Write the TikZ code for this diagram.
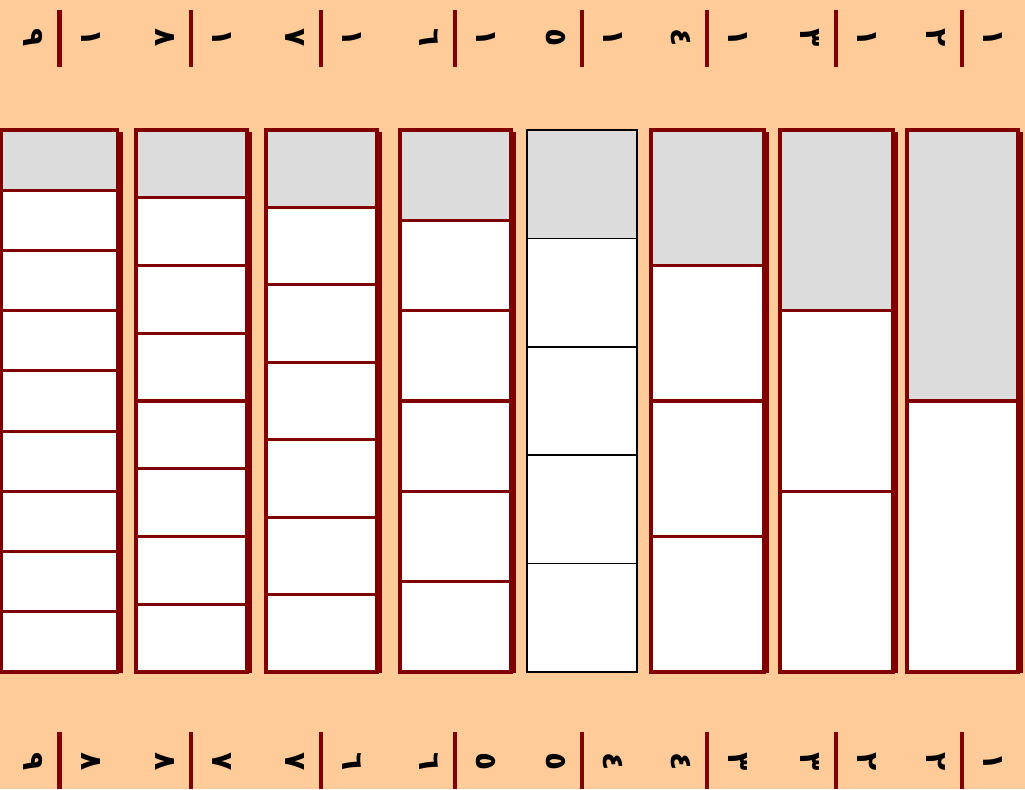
\documentclass[tikz,border=0pt]{standalone}
\usepackage{fontspec}
\newfontfamily\arabicfont[Script=Arabic]{DejaVu Sans}
\definecolor{peach}{HTML}{FFCC99}
\definecolor{maroon}{HTML}{800000}
\definecolor{cellgray}{HTML}{DCDCDC}

\begin{document}
\begin{tikzpicture}[
    x=0.02cm, y=-0.02cm,
    outline/.style={draw=maroon, line width=2.2pt},
    part/.style={draw=maroon, line width=1.8pt},
    digit/.style={font=\arabicfont\bfseries\fontsize{17}{17}\selectfont, rotate=-90, inner sep=0pt},
    bar/.style={draw=maroon, line width=2.4pt}
  ]
    \fill[peach] (0,0) rectangle (1025,789);
    \useasboundingbox (0,0) rectangle (1025,789);

    % strips: n / left / right / centre / digit n / digit n-1
    \foreach \n/\l/\r/\cx/\dd/\dn in {9/1.5/117.5/59.5/٩/٨, 8/136/247/191/٨/٧,
        7/266/377/321/٧/٦, 6/400/511/455/٦/٥, 5/527/637/582/٥/٤,
        4/651/764/707/٤/٣, 3/780/893/836/٣/٢, 2/907/1018/962/٢/١} {
      \pgfmathsetmacro\h{542/\n}
      \pgfmathtruncatemacro\m{\n-1}
      \ifnum\n=5
        \tikzset{outline/.style={draw=black, line width=1.3pt}, part/.style={draw=black, line width=1pt}}
      \else
        \fill[maroon] (\r,132) rectangle (\r+5,673);
      \fi
      \fill[white] (\l,130) rectangle (\r,672);
      \fill[cellgray] (\l,130) rectangle (\r,130+\h);
      \foreach \k in {1,...,\m}
        \draw[part] (\l,130+\k*\h) -- (\r,130+\k*\h);
      \draw[outline] (\l,130) rectangle (\r,672);

      % fraction labels
      \node[digit] (den-top-\n) at (\cx-26,38) {\dd};
      \node[digit] (num-top-\n) at (\cx+31,38) {١};
      \draw[bar] (\cx,10) -- (\cx,67);
      \node[digit] (den-bot-\n) at (\cx-26,762) {\dd};
      \node[digit] (num-bot-\n) at (\cx+31,762) {\dn};
      \draw[bar] (\cx,732) -- (\cx,789);
    }
  \end{tikzpicture}
\end{document}
